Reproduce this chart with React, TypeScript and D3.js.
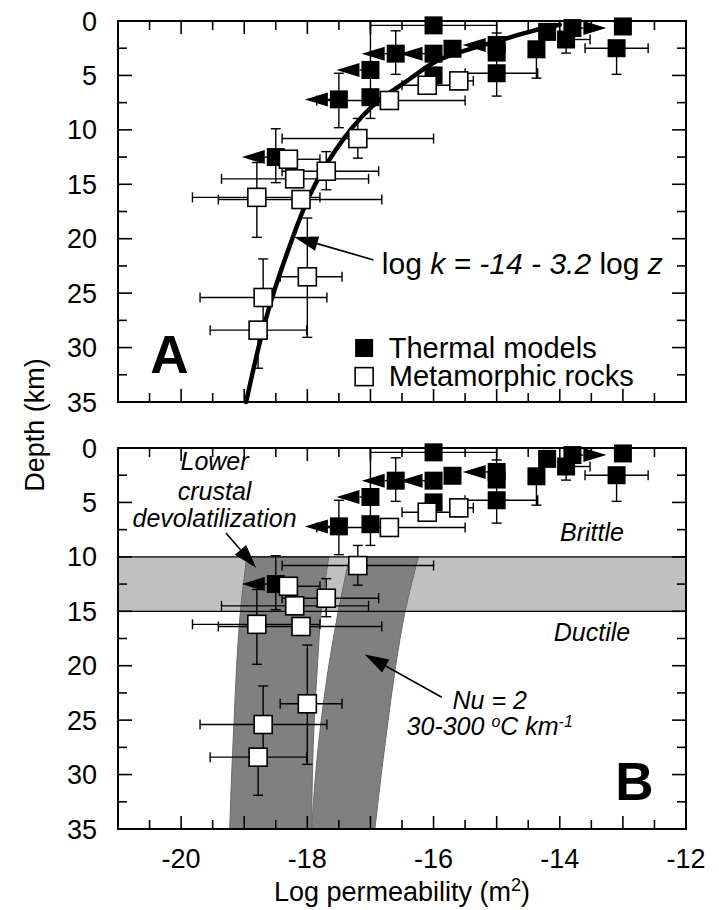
import React from 'react';
import * as d3 from 'd3';

// Log permeability (m^2) against depth (km), two panels sharing the same points

// thermal models (filled squares); lo/hi are error bar ends, arrow = bound direction
const thermalModels = [
  { k: -16.0, z: 0.4, kLo: -17.0, kHi: -15.0 },
  { k: -16.6, z: 3.0, zLo: 0.9, zHi: 4.9, arrow: 'left' },
  { k: -16.0, z: 3.0, arrow: 'left' },
  { k: -15.7, z: 2.55 },
  { k: -15.0, z: 2.2, zLo: 1.1, arrow: 'left' },
  { k: -15.0, z: 2.9 },
  { k: -15.0, z: 4.8, kLo: -15.5, kHi: -14.35, zLo: 2.8, zHi: 6.9 },
  { k: -14.37, z: 2.6, zHi: 5.25 },
  { k: -14.2, z: 1.0 },
  { k: -13.8, z: 0.65, arrow: 'right' },
  { k: -13.9, z: 1.7, kHi: -13.52, zHi: 2.95 },
  { k: -13.0, z: 0.5 },
  { k: -13.1, z: 2.5, kLo: -13.6, kHi: -12.6, zHi: 4.9 },
  { k: -17.5, z: 7.2, zLo: 4.8, zHi: 9.8, arrow: 'left' },
  { k: -17.0, z: 7.0 },
  { k: -17.0, z: 4.5, zLo: 0, zHi: 8.95, arrow: 'left' },
  { k: -16.0, z: 5.0 },
  { k: -18.5, z: 12.5, zLo: 9.9, zHi: 14.85, arrow: 'left' },
];

// metamorphic rocks (open squares)
const metamorphicRocks = [
  { k: -16.7, z: 7.3, kLo: -17.85, kHi: -15.5, zHi: 7.95 },
  { k: -16.1, z: 5.9, kLo: -16.5, kHi: -15.7 },
  { k: -15.6, z: 5.5, kHi: -15.37, zHi: 6.3 },
  { k: -17.2, z: 10.8, kLo: -18.4, kHi: -16.0, zLo: 8.95, zHi: 12.6 },
  { k: -18.3, z: 12.7, kHi: -17.8 },
  { k: -17.7, z: 13.8, kLo: -18.4, kHi: -16.87, zLo: 12.0, zHi: 15.5 },
  { k: -18.2, z: 14.5, kLo: -19.36, kHi: -17.03 },
  { k: -18.8, z: 16.2, kLo: -19.82, kHi: -17.8, zLo: 13.0, zHi: 19.87 },
  { k: -18.1, z: 16.4, kLo: -19.41, kHi: -16.82 },
  { k: -18.0, z: 23.5, kLo: -18.43, kHi: -17.45, zLo: 18.1, zHi: 29.06 },
  { k: -18.7, z: 25.4, kLo: -19.7, kHi: -17.69, zLo: 21.86, zHi: 28.9 },
  { k: -18.78, z: 28.4, kLo: -19.54, kHi: -18.01, zHi: 31.9 },
];

// log k = -14 - 3.2 log z, as traced on panel A
const fitDepth = [0.35, 0.9, 1.6, 3.25, 4.16, 5.9, 7.4, 11.85, 16.4, 19.2, 25, 30, 35];
const fitLogK = [-14.0, -14.45, -14.84, -15.85, -16.11, -16.5, -16.95, -17.59, -18.01, -18.19, -18.55, -18.78, -18.97];

// brittle-ductile transition band (km)
const transition = [10, 15];

// Nu = 2 bands, edges sampled with depth
const bandDepth = [10, 15, 20, 25, 30, 35];
const lowerBandLeft = [-18.96, -19.06, -19.12, -19.16, -19.2, -19.23];
const lowerBandRight = [-17.66, -17.78, -17.84, -17.89, -17.92, -17.93];
const upperBandLeft = [-17.33, -17.51, -17.66, -17.78, -17.87, -17.93];
const upperBandRight = [-16.24, -16.45, -16.6, -16.72, -16.83, -16.93];

const xLabels = [-20, -18, -16, -14, -12];
const depthLabels = [0, 5, 10, 15, 20, 25, 30, 35];

const W = 719;
const H = 910;
const FONT = '"Liberation Sans", Arial, Helvetica, sans-serif';
const SQ = 18;
const CAP = 5;

const x = d3.scaleLinear().domain([-21, -12]).range([118, 686]);
const yA = d3.scaleLinear().domain([0, 35]).range([21, 402]);
const yB = d3.scaleLinear().domain([0, 35]).range([448, 829]);

function Frame({ y }) {
  const [top, bottom] = y.range();
  const [left, right] = x.range();
  const xt = d3.range(-20.5, -12.2, 0.5);
  const yt = d3.range(2.5, 34, 2.5);
  return (
    <g stroke="#000">
      {xt.map((t) => {
        const len = Number.isInteger(t) ? 13 : 9;
        return (
          <g key={'x' + t} strokeWidth={1.6}>
            <line x1={x(t)} x2={x(t)} y1={top} y2={top + len} />
            <line x1={x(t)} x2={x(t)} y1={bottom} y2={bottom - len} />
          </g>
        );
      })}
      {yt.map((t) => {
        const len = t % 5 === 0 ? 14 : 9;
        return (
          <g key={'y' + t} strokeWidth={1.6}>
            <line x1={left} x2={left + len} y1={y(t)} y2={y(t)} />
            <line x1={right} x2={right - len} y1={y(t)} y2={y(t)} />
          </g>
        );
      })}
      <rect x={left} y={top} width={right - left} height={bottom - top} fill="none" strokeWidth={2} />
      {depthLabels.map((t) => (
        <text key={'l' + t} x={97} y={y(t) + 9.5} textAnchor="end" fontSize={27} stroke="none" fill="#000">
          {t}
        </text>
      ))}
    </g>
  );
}

function ErrorBars({ pts, y }) {
  return (
    <g stroke="#000" strokeWidth={1.4} fill="none">
      {pts.map((p, i) => {
        const cx = x(p.k);
        const cy = y(p.z);
        const parts = [];
        if (p.kLo !== undefined || p.kHi !== undefined) {
          const a = p.kLo !== undefined ? x(p.kLo) : cx;
          const b = p.kHi !== undefined ? x(p.kHi) : cx;
          parts.push(<line key="h" x1={a} x2={b} y1={cy} y2={cy} />);
          if (p.kLo !== undefined) parts.push(<line key="hl" x1={a} x2={a} y1={cy - CAP} y2={cy + CAP} />);
          if (p.kHi !== undefined) parts.push(<line key="hh" x1={b} x2={b} y1={cy - CAP} y2={cy + CAP} />);
        }
        if (p.zLo !== undefined || p.zHi !== undefined) {
          const a = p.zLo !== undefined ? y(p.zLo) : cy;
          const b = p.zHi !== undefined ? y(p.zHi) : cy;
          parts.push(<line key="v" x1={cx} x2={cx} y1={a} y2={b} />);
          if (p.zLo !== undefined && p.zLo > 0) parts.push(<line key="vl" x1={cx - CAP} x2={cx + CAP} y1={a} y2={a} />);
          if (p.zHi !== undefined) parts.push(<line key="vh" x1={cx - CAP} x2={cx + CAP} y1={b} y2={b} />);
        }
        return <g key={i}>{parts}</g>;
      })}
    </g>
  );
}

function BoundArrows({ pts, y }) {
  return (
    <g fill="#000" stroke="#000" strokeWidth={1.4}>
      {pts.filter((p) => p.arrow).map((p, i) => {
        const cx = x(p.k);
        const cy = y(p.z);
        const s = p.arrow === 'left' ? -1 : 1;
        const tip = cx + s * 34;
        const base = cx + s * 11;
        return (
          <g key={i}>
            <line x1={cx} x2={base} y1={cy} y2={cy} />
            <polygon stroke="none" points={`${tip},${cy} ${base},${cy - 7} ${base},${cy + 7}`} />
          </g>
        );
      })}
    </g>
  );
}

function Squares({ pts, y, filled }) {
  return (
    <g>
      {pts.map((p, i) => (
        <rect
          key={i}
          x={x(p.k) - SQ / 2}
          y={y(p.z) - SQ / 2}
          width={SQ}
          height={SQ}
          fill={filled ? '#000' : '#fff'}
          stroke="#000"
          strokeWidth={filled ? 0 : 1.6}
        />
      ))}
    </g>
  );
}

function Data({ y }) {
  return (
    <g>
      <ErrorBars pts={thermalModels} y={y} />
      <ErrorBars pts={metamorphicRocks} y={y} />
      <BoundArrows pts={thermalModels} y={y} />
      <Squares pts={thermalModels} y={y} filled />
      <Squares pts={metamorphicRocks} y={y} filled={false} />
    </g>
  );
}

function Pointer({ from, to }) {
  const [x1, y1] = from;
  const [x2, y2] = to;
  const len = Math.hypot(x2 - x1, y2 - y1);
  const ux = (x2 - x1) / len;
  const uy = (y2 - y1) / len;
  const hl = 24;
  const hw = 7.5;
  const bx = x2 - ux * hl;
  const by = y2 - uy * hl;
  const pts = [
    [x2, y2],
    [bx - uy * hw, by + ux * hw],
    [bx + uy * hw, by - ux * hw],
  ];
  return (
    <g>
      <line x1={x1} y1={y1} x2={bx} y2={by} stroke="#000" strokeWidth={1.6} />
      <polygon points={pts.map((p) => p.join(',')).join(' ')} fill="#000" />
    </g>
  );
}

function PanelA() {
  const fit = d3
    .line<number>()
    .x((_, i) => x(fitLogK[i]))
    .y((d) => yA(d))
    .curve(d3.curveBasis);
  return (
    <g>
      <path d={fit(fitDepth) || ''} fill="none" stroke="#000" strokeWidth={4.5} strokeLinecap="round" />
      <Data y={yA} />
      <Pointer from={[x(-16.95), yA(21.95)]} to={[x(-18.21), yA(19.84)]} />
      <text x={x(-16.82)} y={yA(23.24)} fontSize={30}>
        log <tspan fontStyle="italic">k = -14 - 3.2</tspan> log <tspan fontStyle="italic">z</tspan>
      </text>
      <rect x={x(-17.1) - SQ / 2} y={yA(30.04) - SQ / 2} width={SQ} height={SQ} fill="#000" />
      <rect x={x(-17.1) - SQ / 2} y={yA(32.67) - SQ / 2} width={SQ} height={SQ} fill="#fff" stroke="#000" strokeWidth={1.6} />
      <text x={x(-16.71)} y={yA(30.04) + 9.5} fontSize={29}>Thermal models</text>
      <text x={x(-16.71)} y={yA(32.67) + 9.5} fontSize={29}>Metamorphic rocks</text>
      <text x={x(-20.49)} y={yA(32.34)} fontSize={53} fontWeight="bold">A</text>
      <Frame y={yA} />
    </g>
  );
}

function PanelB() {
  const band = (left, right) =>
    d3
      .area<number>()
      .y((d) => yB(d))
      .x0((_, i) => x(left[i]))
      .x1((_, i) => x(right[i]))
      .curve(d3.curveMonotoneY)(bandDepth) || '';
  const [l, r] = x.range();
  return (
    <g>
      <rect x={l} y={yB(transition[0])} width={r - l} height={yB(transition[1]) - yB(transition[0])} fill="#c0c0c0" />
      <path d={band(lowerBandLeft, lowerBandRight)} fill="#808080" stroke="#6a6a6a" strokeWidth={1} />
      <path d={band(upperBandLeft, upperBandRight)} fill="#808080" stroke="#6a6a6a" strokeWidth={1} />
      {transition.map((t) => (
        <line key={t} x1={l} x2={r} y1={yB(t)} y2={yB(t)} stroke="#000" strokeWidth={1.2} />
      ))}
      <g fontStyle="italic" fontSize={25} textAnchor="middle">
        <text x={x(-19.47)} y={yB(2.02)}>Lower</text>
        <text x={x(-19.47)} y={yB(4.78)}>crustal</text>
        <text x={x(-19.47)} y={yB(7.23)}>devolatilization</text>
        <text x={x(-13.49)} y={yB(8.54)}>Brittle</text>
        <text x={x(-13.49)} y={yB(17.73)}>Ductile</text>
        <text x={x(-15.11)} y={yB(23.95)}>Nu = 2</text>
        <text x={x(-15.11)} y={yB(26.36)}>
          30-300 <tspan fontSize={16} dy={-8}>o</tspan>
          <tspan dy={8}>C km</tspan>
          <tspan fontSize={16} dy={-8}>-1</tspan>
        </text>
      </g>
      <Data y={yB} />
      <Pointer from={[x(-19.29), yB(7.81)]} to={[x(-18.81), yB(11.02)]} />
      <Pointer from={[x(-15.87), yB(22.9)]} to={[x(-17.09), yB(18.96)]} />
      <text x={x(-13.12)} y={yB(32.34)} fontSize={53} fontWeight="bold">B</text>
      <Frame y={yB} />
    </g>
  );
}

export default function App() {
  return (
    <svg
      width={W}
      height={H}
      viewBox={`0 0 ${W} ${H}`}
      style={{ position: 'absolute', left: 0, top: 0, display: 'block' }}
      fontFamily={FONT}
    >
      <rect width={W} height={H} fill="#fff" />
      <PanelA />
      <PanelB />
      {xLabels.map((t) => (
        <text key={t} x={x(t)} y={868} textAnchor="middle" fontSize={27}>
          {t}
        </text>
      ))}
      <text x={(x.range()[0] + x.range()[1]) / 2} y={901} textAnchor="middle" fontSize={27}>
        Log permeability (m<tspan fontSize={18} dy={-10}>2</tspan>
        <tspan dy={10}>)</tspan>
      </text>
      <text transform={`translate(44, ${(yA.range()[0] + yB.range()[1]) / 2}) rotate(-90)`} textAnchor="middle" fontSize={27}>
        Depth (km)
      </text>
    </svg>
  );
}
